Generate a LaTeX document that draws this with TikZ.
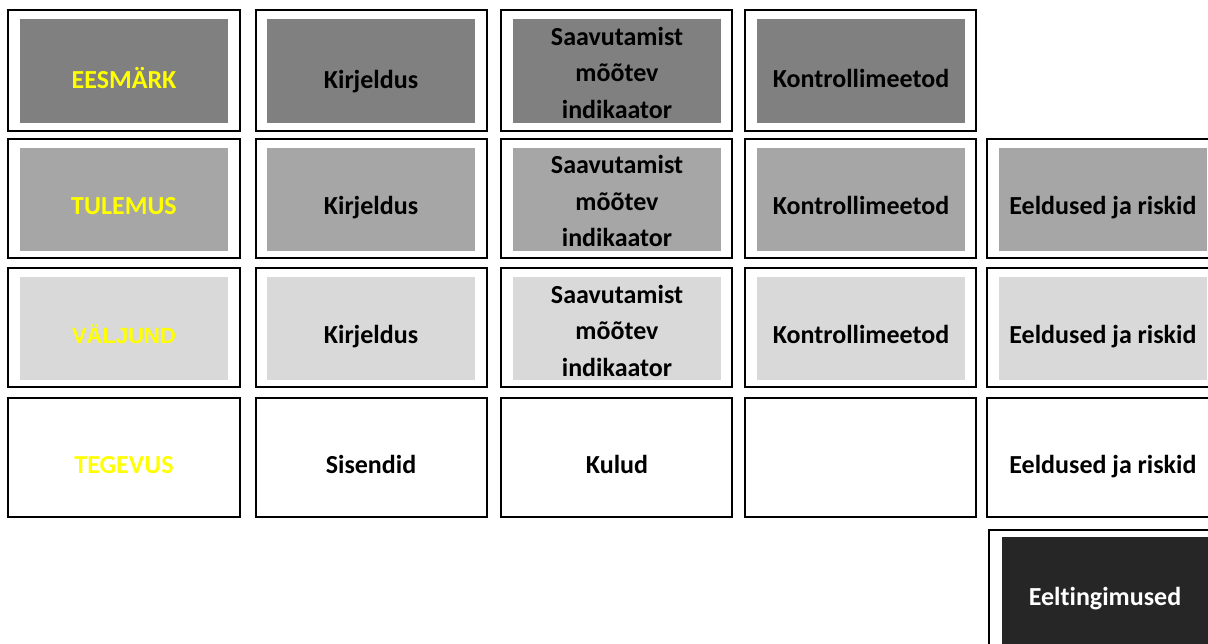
\documentclass[tikz,border=0pt]{standalone}
\usepackage{fontspec}
\setmainfont[Ligatures={NoCommon}]{Carlito}
\newfontfamily\arialfont{Liberation Sans}
\definecolor{gA}{HTML}{808080}
\definecolor{gB}{HTML}{A6A6A6}
\definecolor{gC}{HTML}{D9D9D9}
\definecolor{gD}{HTML}{262626}
\definecolor{yel}{HTML}{FFFF00}
\tikzset{
  outerbox/.style={draw=black, line width=1.2pt, fill=white, inner sep=0pt},
  innerbox/.style={draw=none, inner sep=0pt},
  lbl/.style={font=\fontsize{26}{36.5}\selectfont\bfseries, align=center, inner sep=0pt, text=black, anchor=base},
  lbl3/.style={font=\fontsize{26}{36.5}\selectfont\bfseries, align=center, inner sep=0pt, text=black, anchor=center},
}
\begin{document}
\begin{tikzpicture}[x=1pt,y=-1pt]
\useasboundingbox (0,0) rectangle (1208,643);
\clip (0,0) rectangle (1208,643);
\def\ca{124}\def\cb{371}\def\cc{617}\def\cd{861}\def\ce{1103}
% outer boxes
\foreach \cx/\w/\n in {124/232/1,371.5/231/2,616.5/231/3,860.5/231/4}{
  \node[outerbox, minimum width=\w pt, minimum height=121pt] (o1\n) at (\cx,70.5) {};
}
\foreach \cx/\w/\n in {124/232/1,371.5/231/2,616.5/231/3,860.5/231/4,1103/232/5}{
  \node[outerbox, minimum width=\w pt, minimum height=119pt] (o2\n) at (\cx,198.5) {};
  \node[outerbox, minimum width=\w pt, minimum height=119pt] (o3\n) at (\cx,327.5) {};
  \node[outerbox, minimum width=\w pt, minimum height=119pt] (o4\n) at (\cx,457.5) {};
}
\node[outerbox, minimum width=232pt, minimum height=135pt] (o55) at (1105,597.5) {};
% inner fills
\foreach \cx/\n in {124/1,371/2,617/3,861/4}{
  \node[innerbox, fill=gA, minimum width=208pt, minimum height=104pt] (i1\n) at (\cx,71) {};
}
\foreach \cx/\n in {124/1,371/2,617/3,861/4,1103/5}{
  \node[innerbox, fill=gB, minimum width=208pt, minimum height=103pt] (i2\n) at (\cx,199.5) {};
  \node[innerbox, fill=gC, minimum width=208pt, minimum height=103pt] (i3\n) at (\cx,328.5) {};
}
\node[innerbox, fill=gD, minimum width=208pt, minimum height=120pt] (i55) at (1106,597) {};
% row 1
\node[lbl, text=yel] (t11) at (\ca,88) {EESMÄRK};
\node[lbl] (t12) at (\cb,88) {Kirjeldus};
\node[lbl3] (t13) at (\cc,72.5) {Saavutamist\\mõõtev\\indikaator};
\node[lbl] (t14) at (\cd,87) {Kontrollimeetod};
% row 2
\node[lbl, text=yel] (t21) at (\ca,214) {TULEMUS};
\node[lbl] (t22) at (\cb,214) {Kirjeldus};
\node[lbl3] (t23) at (\cc,201) {Saavutamist\\mõõtev\\indikaator};
\node[lbl] (t24) at (\cd,214) {Kontrollimeetod};
\node[lbl] (t25) at (\ce,214) {Eeldused ja riskid};
% row 3
\node[lbl, text=yel, font=\arialfont\fontsize{22}{30}\selectfont\bfseries] (t31) at (\ca,343) {VÄLJUND};
\node[lbl] (t32) at (\cb,343) {Kirjeldus};
\node[lbl3] (t33) at (\cc,330.5) {Saavutamist\\mõõtev\\indikaator};
\node[lbl] (t34) at (\cd,343) {Kontrollimeetod};
\node[lbl] (t35) at (\ce,343) {Eeldused ja riskid};
% row 4
\node[lbl, text=yel] (t41) at (\ca,473) {TEGEVUS};
\node[lbl] (t42) at (\cb,473) {Sisendid};
\node[lbl] (t43) at (\cc,473) {Kulud};
\node[lbl] (t45) at (\ce,473) {Eeldused ja riskid};
% row 5
\node[lbl, text=white] (t55) at (1105,605) {Eeltingimused};
\end{tikzpicture}
\end{document}
